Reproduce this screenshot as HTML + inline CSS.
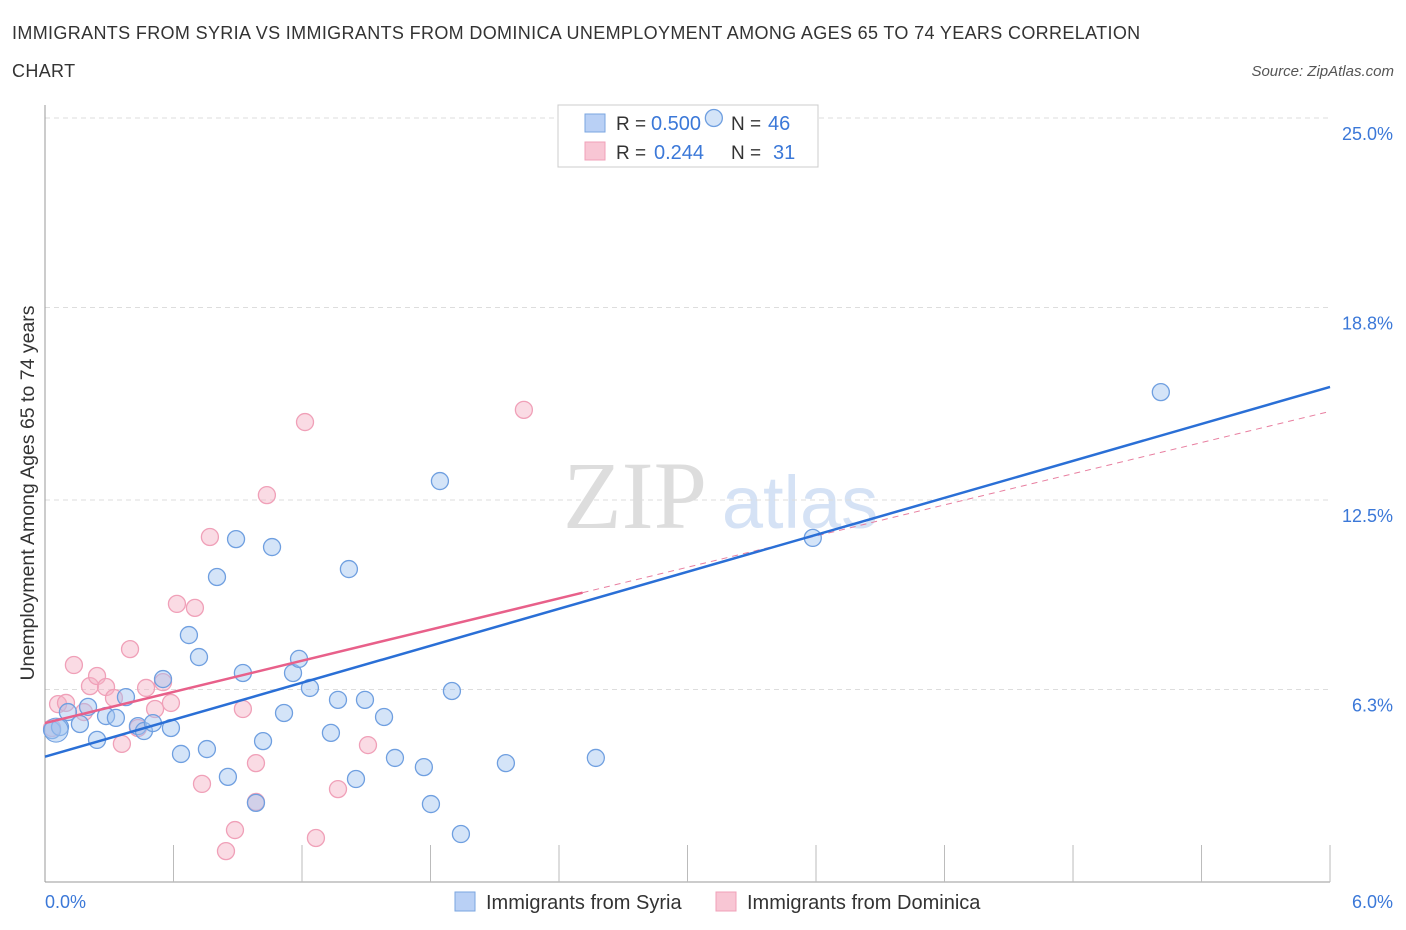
<!DOCTYPE html>
<html><head><meta charset="utf-8"><style>
body{margin:0;background:#fff;font-family:"Liberation Sans",sans-serif;}
svg{display:block}
</style></head><body>
<svg width="1406" height="930" viewBox="0 0 1406 930">
<text x="12" y="39" font-size="18" letter-spacing="0.35" fill="#333">IMMIGRANTS FROM SYRIA VS IMMIGRANTS FROM DOMINICA UNEMPLOYMENT AMONG AGES 65 TO 74 YEARS CORRELATION</text>
<text x="12" y="77" font-size="18" letter-spacing="0.35" fill="#333">CHART</text>
<text x="1394" y="76" font-size="15" fill="#555" font-style="italic" text-anchor="end">Source: ZipAtlas.com</text>
<text x="635" y="528" font-size="96" fill="#ddd" font-family="Liberation Serif, serif" text-anchor="middle">ZIP</text>
<text x="800" y="528" font-size="74" fill="#d5e2f5" text-anchor="middle">atlas</text>
<g id="grid"></g>
<g id="axes"></g>
<g>
<rect x="558" y="105" width="260" height="62" fill="#fff" stroke="#ccc"/>
<rect x="585" y="114" width="20" height="18" fill="#b9d0f5" stroke="#7aa6e0"/>
<rect x="585" y="142" width="20" height="18" fill="#f8c6d4" stroke="#f0a0b8"/>
<text x="616" y="130" font-size="19" fill="#333">R =</text><text x="651" y="130" font-size="20" fill="#3b78d8">0.500</text>
<text x="731" y="130" font-size="19" fill="#333">N =</text><text x="768" y="130" font-size="20" fill="#3b78d8">46</text>
<text x="616" y="159" font-size="19" fill="#333">R =</text><text x="654" y="159" font-size="20" fill="#3b78d8">0.244</text>
<text x="731" y="159" font-size="19" fill="#333">N =</text><text x="773" y="159" font-size="20" fill="#3b78d8">31</text>
</g>
<g id="trend"></g>
<g id="points"></g>
<text transform="translate(34,493) rotate(-90)" font-size="19.5" fill="#333" text-anchor="middle">Unemployment Among Ages 65 to 74 years</text>
<g>
<rect x="455" y="892" width="20" height="19" fill="#b9d0f5" stroke="#7aa6e0"/>
<text x="486" y="909" font-size="20" fill="#333">Immigrants from Syria</text>
<rect x="716" y="892" width="20" height="19" fill="#f8c6d4" stroke="#f0a0b8"/>
<text x="747" y="909" font-size="20" fill="#333">Immigrants from Dominica</text>
</g>
</svg>
<script>
const syriaX=[0.033,0.070,0.107,0.163,0.201,0.243,0.285,0.331,0.378,0.434,0.462,0.504,0.551,0.588,0.635,0.672,0.719,0.756,0.803,0.854,0.892,0.924,0.985,1.018,1.060,1.116,1.158,1.186,1.237,1.335,1.368,1.419,1.452,1.494,1.583,1.634,1.769,1.802,1.844,1.900,1.942,2.152,2.572,3.123,3.585,5.210];
const syriaY=[4.97,5.07,5.56,5.17,5.73,4.65,5.43,5.37,6.05,5.10,4.94,5.20,6.64,5.04,4.19,8.08,7.36,4.35,9.98,3.44,11.22,6.84,2.59,4.61,10.96,5.53,6.84,7.30,6.35,4.88,5.96,10.24,3.37,5.96,5.40,4.06,3.76,2.55,13.12,6.25,1.57,3.89,4.06,25.0,11.26,16.03];
const domX=[0.033,0.061,0.098,0.135,0.182,0.210,0.243,0.285,0.322,0.359,0.397,0.434,0.472,0.514,0.551,0.588,0.616,0.700,0.733,0.770,0.845,0.887,0.924,0.985,0.985,1.036,1.214,1.265,1.368,1.508,2.236];
const domY=[5.04,5.82,5.86,7.10,5.56,6.41,6.74,6.38,6.02,4.52,7.62,5.04,6.35,5.66,6.54,5.86,9.10,8.97,3.21,11.29,1.01,1.70,5.66,3.89,2.62,12.66,15.05,1.44,3.04,4.48,15.45];
const yTicks=[25.0,18.8,12.5,6.3];
const yTickLabels=["25.0%","18.8%","12.5%","6.3%"];
const xTicks=[0,0.6,1.2,1.8,2.4,3.0,3.6,4.2,4.8,5.4,6.0];
const syriaTrend=[4.1,16.2];
const domTrend=[5.2,15.4];
const domSolidEnd=2.51;
const X=v=>45+v*214.17, Y=v=>882-v*30.56;
const NS="http://www.w3.org/2000/svg";
function mk(t,a,p){const e=document.createElementNS(NS,t);for(const k in a)e.setAttribute(k,a[k]);p.appendChild(e);return e;}
const grid=document.getElementById('grid'),axes=document.getElementById('axes'),trend=document.getElementById('trend'),pts=document.getElementById('points');
yTicks.forEach((v,i)=>{
 const l=mk('line',{x1:45,x2:1330,y1:Y(v),y2:Y(v),stroke:'#ddd','stroke-dasharray':'5,4'},grid);
 
 
 const t=mk('text',{x:1393,y:Y(v)+22,'font-size':18,fill:'#3b78d8','text-anchor':'end'},axes);
 t.textContent=yTickLabels[i];
 
 
});
const ax=mk('line',{x1:45,x2:45,y1:105,y2:882,stroke:'#999'},axes);


const bx=mk('line',{x1:45,x2:1330,y1:882,y2:882,stroke:'#999'},axes);


xTicks.forEach(v=>{
 const t=mk('line',{x1:X(v),x2:X(v),y1:882,y2:v===0?882:845,stroke:'#bbb'},axes);
 
 
});
[[0,"0.0%",'start',45],[6,"6.0%",'end',1393]].forEach(a=>{
 const t=mk('text',{x:a[3],y:908,'font-size':18,fill:'#3b78d8','text-anchor':a[2]},axes);
 t.textContent=a[1];
 
 
});
function dot(x,y,f,s,n){const c=mk('circle',{cx:X(x),cy:Y(y),r:8.5,fill:f,stroke:s,'stroke-width':1.3},pts);
 
 }
domX.forEach((x,i)=>dot(x,domY[i],'rgba(245,175,195,0.45)','#f0a0b8','dominica-point'));
syriaX.forEach((x,i)=>dot(x,syriaY[i],'rgba(160,195,240,0.45)','#6f9fe0','syria-point'));
const big=mk('circle',{cx:X(syriaX[0])+4,cy:Y(syriaY[0]),r:12,fill:'rgba(160,195,240,0.5)',stroke:'#6f9fe0'},pts);


const ds=domTrend[0]+(domTrend[1]-domTrend[0])*domSolidEnd/6;
const dd=mk('line',{x1:X(domSolidEnd),y1:Y(ds),x2:X(6),y2:Y(domTrend[1]),stroke:'#e87fa0','stroke-width':1,'stroke-dasharray':'6,5'},trend);


const bl=mk('line',{x1:X(0),y1:Y(syriaTrend[0]),x2:X(6),y2:Y(syriaTrend[1]),stroke:'#2a6fd6','stroke-width':2.5},pts);


const pl=mk('line',{x1:X(0),y1:Y(domTrend[0]),x2:X(domSolidEnd),y2:Y(ds),stroke:'#e8608a','stroke-width':2.5},pts);


</script>
</body></html>
